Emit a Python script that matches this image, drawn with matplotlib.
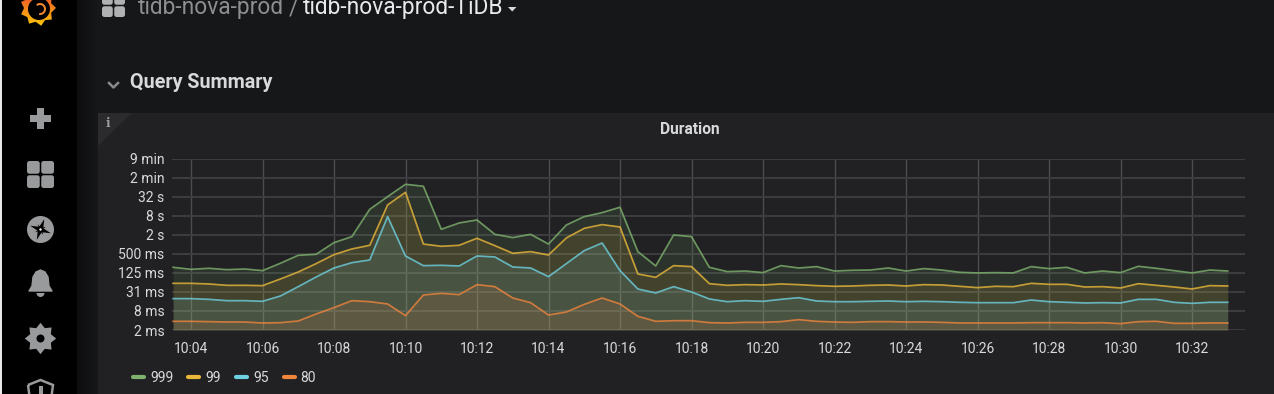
import numpy as np
import pandas as pd
import matplotlib
matplotlib.use("Agg")
import matplotlib.pyplot as plt
import matplotlib.dates as mdates
from matplotlib.lines import Line2D
from matplotlib.patches import Circle, FancyBboxPatch, Polygon, Rectangle, Wedge

plt.rcParams["font.family"] = ["Roboto", "DejaVu Sans"]

# datas (ms, one point every 30 s)
times = pd.date_range("2019-01-01 10:03:30", periods=60, freq="30s")
p999 = [191, 165, 178, 161, 169, 150, 256, 458, 493, 1150, 1780, 13000, 32700, 80200, 69400,
        3040, 4810, 5990, 2110, 1660, 2110, 1040, 4160, 7630, 10200, 15100, 598, 211, 2010, 1780,
        191, 140, 146, 130, 216, 182, 201, 146, 154, 157, 182, 146, 174, 157, 133,
        127, 130, 127, 201, 174, 191, 127, 146, 130, 206, 178, 150, 127, 157, 146]
p99 = [59.7, 59.7, 56.9, 51.6, 51.6, 50.4, 81.8, 136, 250, 481, 726, 948, 17900, 44800, 1040,
       882, 948, 1580, 926, 530, 598, 469, 1620, 3260, 4270, 3600, 118, 92.4, 216, 201,
       58.3, 51.6, 54.2, 52.9, 56.9, 54.2, 50.4, 48.0, 49.2, 51.6, 52.9, 49.2, 54.2, 52.9, 48.0,
       43.6, 48.0, 46.8, 59.7, 55.5, 55.5, 45.7, 46.8, 42.5, 58.3, 51.6, 45.7, 39.5, 50.4, 49.2]
p95 = [19.6, 19.6, 18.6, 16.9, 16.9, 16.1, 23.7, 46.8, 94.6, 182, 268, 326, 7630, 436, 216,
       221, 211, 436, 406, 196, 182, 96.9, 250, 643, 1120, 150, 39.5, 29.6, 46.8, 31.8,
       19.1, 15.7, 16.9, 16.1, 18.6, 21.0, 16.5, 15.7, 15.7, 16.1, 16.5, 15.7, 16.1, 15.7, 15.0,
       14.6, 14.6, 14.6, 17.7, 15.7, 15.0, 14.3, 14.6, 14.3, 18.6, 18.6, 15.0, 13.9, 15.0, 15.0]
p80 = [3.76, 3.76, 3.67, 3.58, 3.58, 3.33, 3.41, 3.85, 6.41, 10.2, 16.9, 15.7, 13.3, 5.68, 25.5,
       28.8, 26.2, 54.2, 46.8, 20.5, 14.6, 5.96, 7.41, 12.9, 20.5, 13.3, 5.41, 3.76, 3.94, 3.94,
       3.41, 3.33, 3.49, 3.49, 3.67, 4.24, 3.76, 3.58, 3.49, 3.67, 3.67, 3.58, 3.58, 3.49, 3.33,
       3.33, 3.33, 3.33, 3.41, 3.41, 3.41, 3.33, 3.41, 3.17, 3.67, 3.76, 3.25, 3.25, 3.33, 3.33]

series_names = ["999", "99", "95", "80"]
series_colors = ["#7EB26D", "#EAB839", "#6ED0E0", "#EF843C"]

y_ticks = [2, 8, 32, 128, 512, 2048, 8192, 32768, 131072, 524288]
y_labels = ["2 ms", "8 ms", "31 ms", "125 ms", "500 ms", "2 s", "8 s", "32 s", "2 min", "9 min"]

W, H = 1274, 394
TEXT = "#d8d9da"
ICON = "#999a9b"


def round_box(ax, x, y, w, h, r, color):
    ax.add_patch(FancyBboxPatch((x + r, y + r), w - 2 * r, h - 2 * r,
                                boxstyle="round,pad=%g,rounding_size=%g" % (r, r),
                                fc=color, ec="none", zorder=3))


def grid_icon(ax, x, y, size, color):
    gap = 1.5
    s = (size - gap) / 2
    for dx in (0, s + gap):
        for dy in (0, s + gap):
            round_box(ax, x + dx, y + dy, s, s, 2.5, color)


def star_points(cx, cy, r_out, r_in, n, start=0.0):
    ang = np.arange(2 * n) * np.pi / n + start
    rad = np.where(np.arange(2 * n) % 2 == 0, r_out, r_in)
    return np.column_stack([cx + rad * np.sin(ang), cy - rad * np.cos(ang)])


def draw_page(ax):
    # background parts
    ax.add_patch(Rectangle((0, 0), W, H, fc="#161719", ec="none"))
    ax.add_patch(Rectangle((2, 0), 75, H, fc="#000000", ec="none"))
    ax.add_patch(Rectangle((0, 0), 2, H, fc="#e8e8e8", ec="none"))
    shade = np.linspace(0, 1, 21).reshape(1, -1)
    ax.imshow(shade, extent=(77, 98, H, 0), aspect="auto", zorder=1,
              cmap=matplotlib.colors.LinearSegmentedColormap.from_list("s", ["#0e0e0f", "#161719"]))
    ax.add_patch(Rectangle((98, 113), W - 98, H - 113, fc="#212124", ec="none", zorder=2))
    ax.add_patch(Polygon([(98, 113), (132, 113), (98, 146)], fc="#2b2b2e", ec="none", zorder=3))
    ax.text(107.5, 123, "i", color="#a0a0a0", fontsize=8.5, fontweight="bold", family="DejaVu Serif",
            ha="center", va="center", zorder=4)

    # grafana logo
    grad = np.linspace(0, 1, 60).reshape(-1, 1)
    cmap = matplotlib.colors.LinearSegmentedColormap.from_list("g", ["#f05a28", "#fbca0a"])
    logo = ax.imshow(grad, extent=(18, 58, 27, -2), aspect="auto", cmap=cmap, zorder=3)
    logo.set_clip_path(Polygon(star_points(38, 8, 18, 14, 9, 0.17), transform=ax.transData))
    ax.add_patch(Wedge((39, 9), 11, 0, 360, width=11, fc="#000000", ec="none", zorder=4))
    ax.add_patch(Wedge((40, 9), 6, 230, 100, width=2, fc="#f28a2e", ec="none", zorder=5))

    # side icons
    ax.add_patch(Rectangle((37, 108), 6.5, 21, fc=ICON, ec="none", zorder=3))
    ax.add_patch(Rectangle((30, 115), 21, 6.5, fc=ICON, ec="none", zorder=3))
    grid_icon(ax, 27, 161, 27, ICON)
    ax.add_patch(Circle((40.5, 229.5), 13.5, fc=ICON, ec="none", zorder=3))
    ax.add_patch(Polygon(star_points(40.5, 229.5, 11, 3, 4, 0.35), fc="#000000", ec="none", zorder=4))
    ax.add_patch(Polygon(star_points(40.5, 229.5, 6, 1.5, 4, 1.1), fc="#000000", ec="none", zorder=4))
    ax.add_patch(Circle((40.5, 229.5), 1.2, fc="#ffffff", ec="none", zorder=5))
    # bell
    ax.add_patch(Polygon([(40.5, 270), (45, 272), (48, 277), (49, 286), (52, 291), (29, 291), (32, 286),
                          (33, 277), (36, 272)], fc=ICON, ec=ICON, lw=1, joinstyle="round", zorder=3))
    ax.add_patch(Wedge((40.5, 293), 4, 0, 180, fc=ICON, ec="none", zorder=3))
    # gear
    ax.add_patch(Polygon(star_points(40.5, 338.5, 14, 10, 8, 0.0), fc=ICON, ec=ICON, lw=1.5, zorder=3))
    ax.add_patch(Circle((40.5, 338.5), 10, fc=ICON, ec="none", zorder=3))
    ax.add_patch(Circle((40.5, 338.5), 4, fc="#000000", ec="none", zorder=4))
    # shield
    ax.add_patch(Polygon([(28, 385), (40.5, 380), (53, 385), (51, 400), (30, 400)], fc="none", ec=ICON,
                         lw=1.8, zorder=3))
    ax.add_patch(Rectangle((38.5, 386), 4, 12, fc=ICON, ec="none", zorder=3))

    # header
    grid_icon(ax, 102, -6, 23, "#b0b1b2")
    ax.text(138, 14, "tidb-nova-prod", color="#8e8e8e", fontsize=16.4, ha="left", va="baseline", zorder=3)
    ax.text(289, 14, "/", color="#8e8e8e", fontsize=16.4, ha="left", va="baseline", zorder=3)
    ax.text(303, 14, "tidb-nova-prod-TiDB", color="#e8e9ea", fontsize=16.4, ha="left", va="baseline", zorder=3)
    ax.add_patch(Polygon([(508, 7), (516.5, 7), (512.2, 11.5)], fc="#d8d9da", ec="none", zorder=3))

    # row title
    ax.plot([109, 113.5, 118], [83, 87.5, 83], color="#8a8a8a", lw=1.8, zorder=3)
    ax.text(130, 87.5, "Query Summary", color=TEXT, fontsize=14.2, fontweight="bold", ha="left", va="baseline", zorder=3)
    ax.text(689.5, 129.5, "Duration", color=TEXT, fontsize=11.2, fontweight="bold", ha="center", va="center", zorder=3)


def main():

    # create a figure
    fig = plt.figure(figsize=(W / 100, H / 100), dpi=100)

    # page around the panel
    page = fig.add_axes([0, 0, 1, 1])
    page.set_xlim(0, W)
    page.set_ylim(H, 0)
    page.axis("off")
    draw_page(page)
    page.set_xlim(0, W)
    page.set_ylim(H, 0)

    # graph
    left, right, top, bottom = 172, 1245, 158.5, 330
    ax = fig.add_axes([left / W, 1 - bottom / H, (right - left) / W, (bottom - top) / H])
    ax.patch.set_alpha(0)
    ax.set_yscale("log", base=2)
    ax.set_ylim(y_ticks[0], y_ticks[-1])
    ax.set_yticks(y_ticks)
    ax.set_yticklabels(y_labels)
    ax.minorticks_off()

    per_min = 35.75
    t0 = mdates.date2num(pd.Timestamp("2019-01-01 10:04:00"))
    ax.set_xlim(t0 + (left - 191) / per_min / 1440, t0 + (right - 191) / per_min / 1440)
    ax.xaxis.set_major_locator(mdates.MinuteLocator(byminute=range(0, 60, 2)))
    ax.xaxis.set_major_formatter(mdates.DateFormatter("%H:%M"))

    ax.tick_params(axis="both", length=0, colors=TEXT, labelsize=10)
    ax.tick_params(axis="y", pad=5.5)
    ax.tick_params(axis="x", pad=8.5)
    for s in ax.spines.values():
        s.set_visible(False)
    ax.grid(axis="y", color="#3d3d40", lw=1.4)
    ax.grid(axis="x", color="#4c4c4e", lw=1.0)
    ax.set_axisbelow(True)
    for lab in ax.get_xticklabels() + ax.get_yticklabels():
        lab.set_clip_on(False)

    # plot datas
    for vals, name, col in zip([p999, p99, p95, p80], series_names, series_colors):
        ax.fill_between(times, vals, y_ticks[0], color=col, alpha=0.12, lw=0)
        ax.plot(times, vals, color=col, lw=1.25, alpha=0.8, label=name)

    # legend
    handles = [Line2D([], [], color=c, lw=3.0, solid_capstyle="round") for c in series_colors]
    fig.legend(handles, series_names, loc="center left", bbox_to_anchor=(133 / W, 1 - 377.5 / H),
               ncol=4, frameon=False, fontsize=10, labelcolor=TEXT, handlelength=0.8,
               handletextpad=0.43, columnspacing=1.08, borderpad=0, borderaxespad=0)

    fig.savefig("out.png", dpi=100)


if __name__ == "__main__": main()
